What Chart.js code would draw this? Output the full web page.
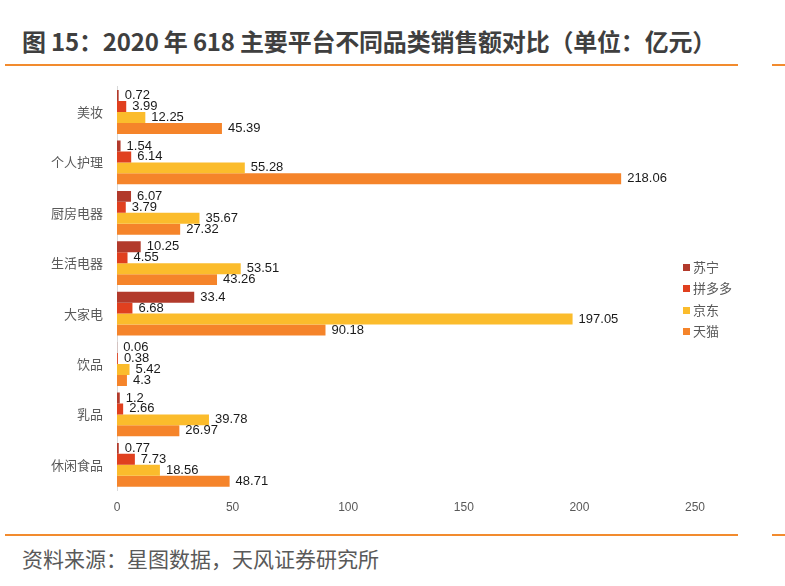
<!DOCTYPE html>
<html>
<head>
<meta charset="utf-8">
<script src="https://cdn.jsdelivr.net/npm/chart.js@4"></script>
<style>
  body { margin: 0; background: #fff; font-family: "Noto Sans CJK SC", sans-serif; }
  #wrap { position: relative; width: 785px; height: 586px; overflow: hidden; }
  #title { position: absolute; left: 22px; top: 23px; font-size: 24px; font-weight: bold; color: #3f3f3f; white-space: nowrap; letter-spacing: -0.2px; }
  .rule { position: absolute; height: 2px; background: #f28b2e; }
  #source { position: absolute; left: 22px; top: 543px; font-size: 21px; color: #595959; white-space: nowrap; }
  #chartBox { position: absolute; left: 0; top: 65px; width: 785px; height: 455px; }
  #legend { position: absolute; left: 683px; top: 256px; font-size: 13px; color: #595959; }
  .leg-item { height: 21.3px; line-height: 21.3px; white-space: nowrap; }
  .leg-box { display: inline-block; width: 7px; height: 7px; margin-right: 3px; vertical-align: 1px; }
</style>
</head>
<body>
<div id="wrap">
  <div id="title">图 15：2020 年 618 主要平台不同品类销售额对比（单位：亿元）</div>
  <div class="rule" style="left:5px; top:64px; width:733px;"></div>
  <div class="rule" style="left:772px; top:64px; width:13px;"></div>
  <div id="chartBox"><canvas id="chart" width="785" height="455"></canvas></div>
  <div id="legend"></div>
  <div class="rule" style="left:5px; top:534px; width:733px;"></div>
  <div class="rule" style="left:772px; top:534px; width:13px;"></div>
  <div id="source">资料来源：星图数据，天风证券研究所</div>
</div>
<script>
// Categories and values (亿元)
const categories = ['美妆', '个人护理', '厨房电器', '生活电器', '大家电', '饮品', '乳品', '休闲食品'];
const seriesNames = ['苏宁', '拼多多', '京东', '天猫'];
const seriesColors = ['#b23a2b', '#e0401f', '#fbbc2c', '#f5842a'];
const suning = [0.72, 1.54, 6.07, 10.25, 33.4, 0.06, 1.2, 0.77];
const pinduoduo = [3.99, 6.14, 3.79, 4.55, 6.68, 0.38, 2.66, 7.73];
const jingdong = [12.25, 55.28, 35.67, 53.51, 197.05, 5.42, 39.78, 18.56];
const tmall = [45.39, 218.06, 27.32, 43.26, 90.18, 4.3, 26.97, 48.71];
const xTicks = [0, 50, 100, 150, 200, 250];

const seriesValues = [suning, pinduoduo, jingdong, tmall];

// Value labels at the end of each bar
const valueLabels = {
  id: 'valueLabels',
  afterDatasetsDraw(chart) {
    const ctx = chart.ctx;
    ctx.save();
    ctx.font = '13px "Liberation Sans", Arial, sans-serif';
    ctx.fillStyle = '#1a1a1a';
    ctx.textAlign = 'left';
    ctx.textBaseline = 'middle';
    chart.data.datasets.forEach((ds, i) => {
      const meta = chart.getDatasetMeta(i);
      meta.data.forEach((bar, j) => {
        ctx.fillText(String(ds.data[j]), bar.x + 6, bar.y);
      });
    });
    ctx.restore();
  }
};

const ctx = document.getElementById('chart').getContext('2d');
const chart = new Chart(ctx, {
  type: 'bar',
  data: {
    labels: categories,
    datasets: seriesNames.map((name, i) => ({
      label: name,
      data: seriesValues[i],
      backgroundColor: seriesColors[i],
      borderWidth: 0,
      categoryPercentage: 0.87,
      barPercentage: 1.0
    }))
  },
  options: {
    indexAxis: 'y',
    responsive: false,
    animation: false,
    layout: { padding: { left: 0, right: 90, top: 0, bottom: 4 } },
    plugins: {
      legend: { display: false },
      tooltip: { enabled: false }
    },
    scales: {
      x: {
        min: 0,
        max: 250,
        afterBuildTicks: (scale) => { scale.ticks = xTicks.map(v => ({ value: v })); },
        grid: { display: false, drawTicks: false },
        border: { display: false },
        ticks: { color: '#595959', padding: 10, font: { size: 12, family: '"Liberation Sans Narrow", "Liberation Sans", Arial' } },
        afterFit: (scale) => { scale.height = 26; }
      },
      y: {
        grid: { display: false, drawTicks: false },
        border: { display: true, color: '#d9d9d9', width: 1 },
        ticks: { color: '#595959', padding: 14, font: { size: 13, family: '"Noto Sans CJK SC"' } },
        afterFit: (scale) => { scale.width = 117; }
      }
    }
  },
  plugins: [valueLabels]
});

// Legend on the right, built from the series arrays
const legendEl = document.getElementById('legend');
seriesNames.forEach((name, i) => {
  const item = document.createElement('div');
  item.className = 'leg-item';
  item.innerHTML = `<span class="leg-box" style="background:${seriesColors[i]}"></span>${name}`;
  legendEl.appendChild(item);
});
</script>
</body>
</html>
